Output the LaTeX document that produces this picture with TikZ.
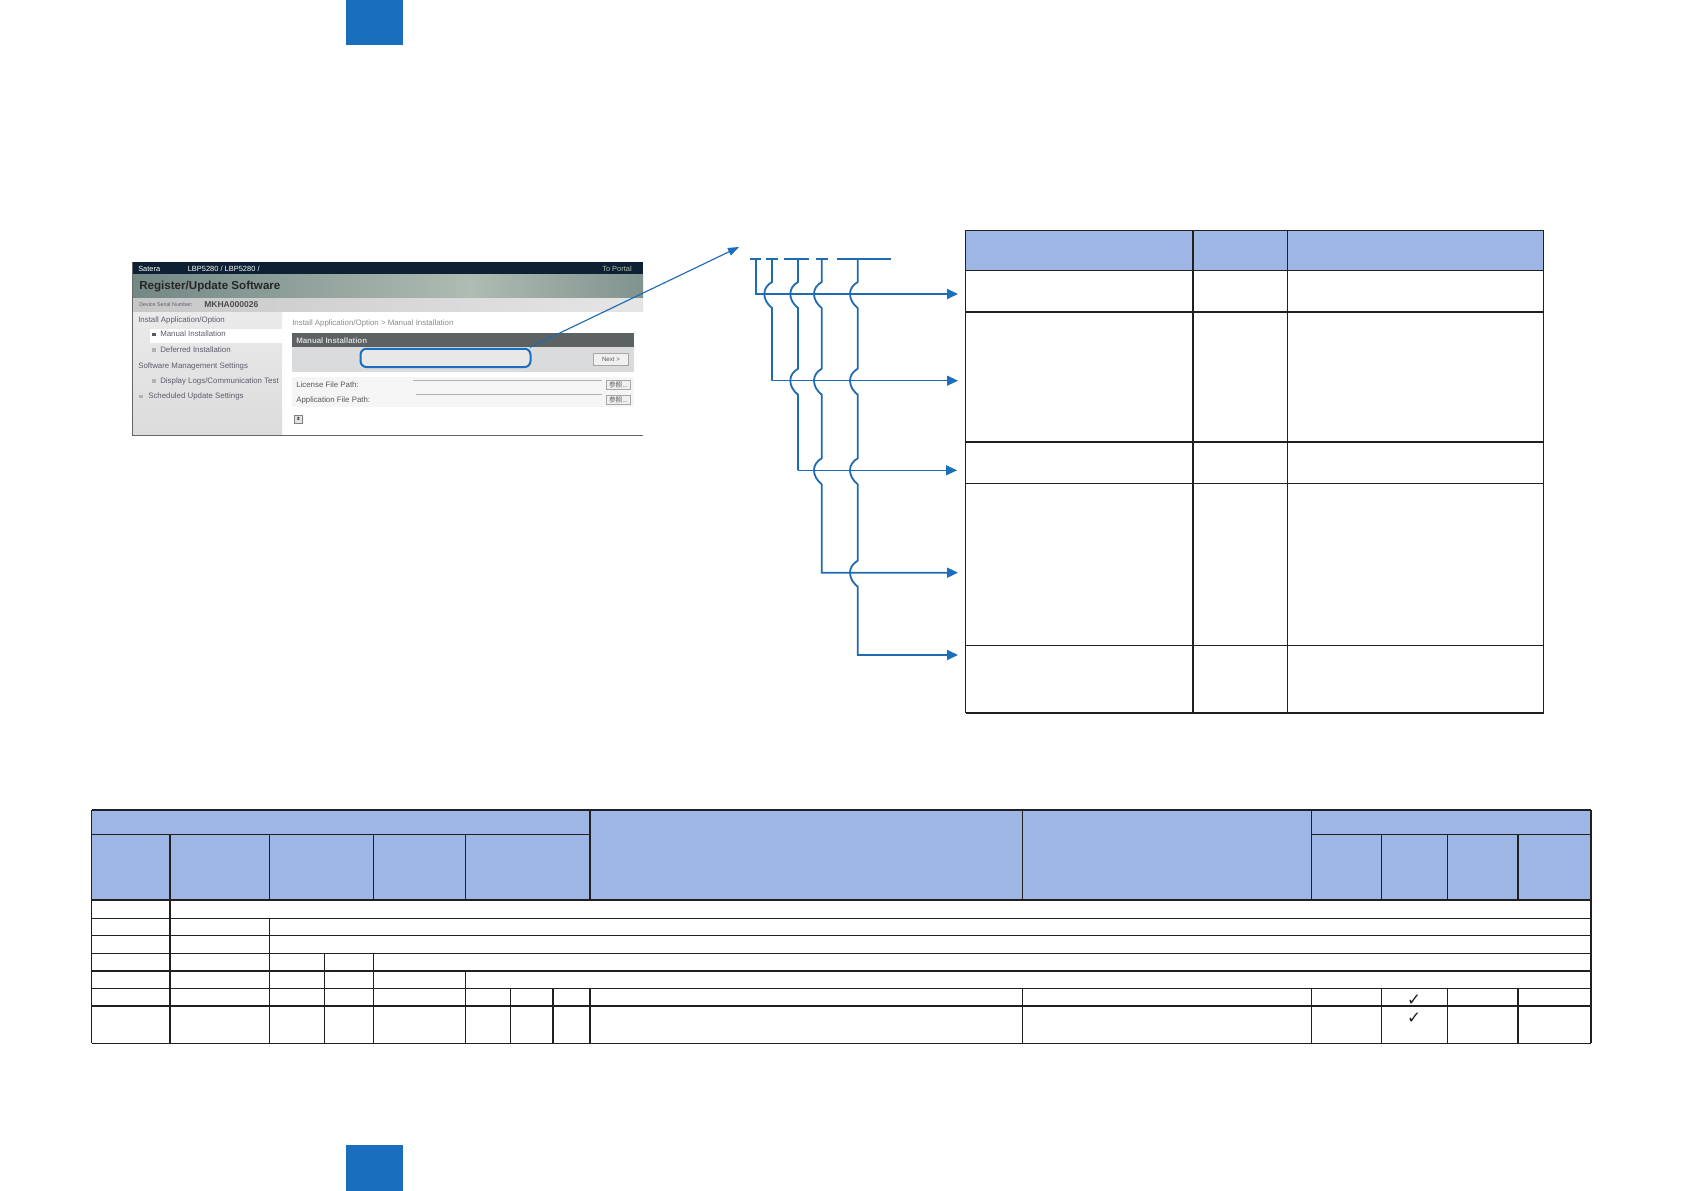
\documentclass[tikz,border=0pt]{standalone}
\usepackage{fontspec}
\setmainfont{Liberation Sans}
\newfontfamily\cjk{Noto Sans CJK SC}
\newfontfamily\dejavu{DejaVu Sans}
\usetikzlibrary{arrows.meta}
\definecolor{brandblue}{HTML}{1A6EBE}
\definecolor{wireblue}{HTML}{1F6AB0}
\definecolor{headblue}{HTML}{9DB6E4}
\definecolor{ruleink}{HTML}{231F20}
\definecolor{bardark}{HTML}{0E2033}
\definecolor{titleL}{HTML}{738785}
\definecolor{titleM}{HTML}{AEBCB2}
\definecolor{titleR}{HTML}{81938F}
\definecolor{panelhead}{HTML}{5C6161}
\definecolor{panelbody}{HTML}{D9DBDC}
\definecolor{menuink}{HTML}{5C5D6C}
\tikzset{
  thinrule/.style={draw=ruleink,line width=0.85pt},
  thickrule/.style={draw=ruleink,line width=1.6pt},
  wire/.style={draw=wireblue,line width=1.35pt},
  finewire/.style={draw=wireblue,line width=0.85pt},
  tipped/.style={-{Triangle[length=8.25pt,width=7.5pt,color=brandblue]}},
  uitext/.style={inner sep=0pt,anchor=west,font=\fontsize{5.9}{6.5}\selectfont,text=menuink},
  bartext/.style={inner sep=0pt,font=\fontsize{5.6}{6}\selectfont,text=white},
  uibtn/.style={draw=black!35,fill=black!6,line width=0.4pt,inner sep=0pt,font=\fontsize{4.6}{5}\selectfont,text=black!65}
}
% a vertical wire hopping to the left over a horizontal one at height #2
\def\hop#1#2{-- (#1,#2-12) .. controls (#1-5,#2-9) and (#1-7.7,#2-5) .. (#1-7.7,#2) .. controls (#1-7.7,#2+5) and (#1-5,#2+10) .. (#1,#2+14)}
\begin{document}
\begin{tikzpicture}[x=0.75pt,y=-0.75pt]
\useasboundingbox (0,0) rectangle (1684,1191);
\fill[white] (0,0) rectangle (1684,1191);

% page tabs
\fill[brandblue] (346,0) rectangle (403,45);
\fill[brandblue] (346,1145) rectangle (403,1191);

% ---------- screenshot ----------
\fill[white] (282,311) rectangle (643,435);
\shade[top color=black!8,bottom color=black!14] (132,311) rectangle (282,435);
\fill[white] (150,329) rectangle (282,343);
\fill[bardark] (132,262.3) rectangle (643,275);
\shade[left color=titleL,right color=titleM] (132,275) rectangle (470,298.3);
\shade[left color=titleM,right color=titleR] (470,275) rectangle (643,298.3);
\shade[left color=black!22,right color=black!10] (132,298.3) rectangle (643,311);
\draw[black!60,line width=0.7pt] (132,262.3) -- (132,435) -- (643,435);
\fill[panelhead] (292,333) rectangle (634,346.7);
\fill[panelbody] (292,346.7) rectangle (634,372.3);
\fill[black!4] (292,377) rectangle (634,407);
\draw[black!30,line width=0.4pt] (412.7,380) -- (602,380) (416,394) -- (602,394);

\node[bartext,anchor=west] (t1) at (138,269) {Satera};
\node[bartext,anchor=west] (t2) at (187.5,269) {LBP5280 / LBP5280 /};
\node[bartext,anchor=east,text=titleM] (t3) at (632,269) {To Portal};
\node[inner sep=0pt,anchor=west,font=\fontsize{8.7}{9.5}\selectfont\bfseries,text=black!85] (t4) at (139,287) {Register/Update Software};
\node[uitext,font=\fontsize{4}{5}\selectfont] (t5) at (139,305) {Device Serial Number:};
\node[uitext,font=\fontsize{6.4}{7}\selectfont\bfseries,text=black!70] (t6) at (204,305) {MKHA000026};
\node[uitext] (t7) at (138,320) {Install Application/Option};
\fill[black!65] (151.5,332.8) rectangle (155.5,336.2);
\node[uitext] (t8) at (160,334) {Manual Installation};
\fill[black!30] (151.5,348.3) rectangle (155.5,351.7);
\node[uitext] (t9) at (160,350) {Deferred Installation};
\node[uitext] (t10) at (138,366) {Software Management Settings};
\fill[black!30] (151.5,379.3) rectangle (155.5,382.7);
\node[uitext] (t11) at (160,381) {Display Logs/Communication Test};
\fill[black!30] (139,395) rectangle (143,398.4);
\node[uitext] (t12) at (148,396.5) {Scheduled Update Settings};
\node[uitext,text=black!45] (t13) at (292,323) {Install Application/Option > Manual Installation};
\node[uitext,font=\fontsize{5.9}{6.5}\selectfont\bfseries,text=black!15] (t14) at (296,340.5) {Manual Installation};
\node[uibtn,minimum width=26pt,minimum height=9pt] (nextbtn) at (611,359.3) {Next >};
\node[uitext,text=black!65] (t15) at (296,385) {License File Path:};
\node[uitext,text=black!65] (t16) at (296,400) {Application File Path:};
\node[uibtn,minimum width=18pt,minimum height=7pt,font=\fontsize{5}{5}\cjk] (b1) at (618.5,384.5) {参照...};
\node[uibtn,minimum width=18pt,minimum height=7pt,font=\fontsize{5}{5}\cjk] (b2) at (618.5,399.5) {参照...};
\node[draw=black!50,fill=black!10,line width=0.4pt,minimum size=6pt,inner sep=0pt,font=\fontsize{4}{4}\selectfont\bfseries] (topbtn) at (298.3,419) {±};

% highlighted field and its leader
\node[draw=brandblue,fill=black!9,line width=1.5pt,rounded corners=4.5pt,minimum width=127.5pt,minimum height=13.7pt,inner sep=0pt] (field) at (445.5,357.9) {};
\coordinate (leadtip) at (739,247);
\coordinate (leadfoot) at (530,347.3);
\draw[finewire,-{Triangle[length=8.25pt,width=6pt,color=brandblue]}] (leadfoot) -- (leadtip);

% ---------- connector bundle ----------
\coordinate (ta) at (755.7,259); \coordinate (tb) at (772,259); \coordinate (tc) at (798,259);
\coordinate (td) at (821.7,259); \coordinate (te) at (857.7,259);
\coordinate (ea) at (958,294); \coordinate (eb) at (958,380.7); \coordinate (ec) at (957,470.3);
\coordinate (ed) at (958,572.7); \coordinate (ee) at (958,655);
\coordinate (cb) at (772,380.7); \coordinate (cc) at (798,470.3);
\draw[wire] (750,259) -- (760.7,259) (766,259) -- (777.7,259) (784.3,259) -- (809.3,259)
            (816,259) -- (827.7,259) (836.7,259) -- (890.7,259);
\draw[wire,tipped] (ta) |- (ea);
\draw[wire] (tb) \hop{772}{294} -- (cb);
\draw[finewire,tipped] (cb) -- (eb);
\draw[wire] (tc) \hop{798}{294} \hop{798}{380.7} -- (cc);
\draw[finewire,tipped] (cc) -- (ec);
\draw[wire,tipped] (td) \hop{821.7}{294} \hop{821.7}{380.7} \hop{821.7}{470.3} |- (ed);
\draw[wire,tipped] (te) \hop{857.7}{294} \hop{857.7}{380.7} \hop{857.7}{470.3} \hop{857.7}{572.7} |- (ee);

% ---------- right table ----------
\fill[headblue] (965.7,230.3) rectangle (1543.6,270.3);
\draw[thinrule] (965.7,230.3) rectangle (1543.6,712.7);
\draw[thinrule] (965.7,270.3) -- (1543.6,270.3) (965.7,483.3) -- (1543.6,483.3) (965.7,645.3) -- (1543.6,645.3);
\draw[thickrule] (965.7,311.7) -- (1543.6,311.7) (965.7,441.7) -- (1543.6,441.7) (965.7,712.7) -- (1543.6,712.7);
\draw[thickrule] (1192.7,230.3) -- (1192.7,712.7);
\draw[thinrule] (1287.6,230.3) -- (1287.6,712.7);

% ---------- bottom table ----------
\fill[headblue] (91.5,810) rectangle (1590.7,900);
\draw[thinrule] (91.5,834.3) -- (590.1,834.3) (1311.6,834.3) -- (1590.7,834.3);
\foreach \yy in {900,918.3,935.3,953.3,988.3,1043.3}
  \draw[thinrule] (91.5,\yy) -- (1590.7,\yy);
\foreach \yy in {810,971,1005.7}
  \draw[thickrule] (91.5,\yy) -- (1590.7,\yy);
\draw[thinrule] (91.5,810) -- (91.5,1043.3);
\draw[thickrule] (1590.7,810) -- (1590.7,1043.3);
\draw[thickrule] (169.9,834.3) -- (169.9,1043.3);
\draw[thinrule] (269.4,834.3) -- (269.4,900) (269.4,918.3) -- (269.4,1043.3);
\draw[thinrule] (324.5,953.3) -- (324.5,1043.3);
\draw[thinrule] (373.5,834.3) -- (373.5,900) (373.5,953.3) -- (373.5,1043.3);
\draw[thinrule] (465.8,834.3) -- (465.8,900) (465.8,971) -- (465.8,1043.3);
\draw[thinrule] (510.5,988.3) -- (510.5,1043.3);
\draw[thickrule] (553.4,988.3) -- (553.4,1043.3);
\draw[thickrule] (590.1,810) -- (590.1,900) (590.1,988.3) -- (590.1,1043.3);
\foreach \xx in {1022.5,1311.6} \draw[thinrule] (\xx,810) -- (\xx,900) (\xx,988.3) -- (\xx,1043.3);
\foreach \xx in {1381.6,1447.2} \draw[thinrule] (\xx,834.3) -- (\xx,900) (\xx,988.3) -- (\xx,1043.3);
\draw[thickrule,line width=1.2pt] (1518,834.3) -- (1518,900) (1518,988.3) -- (1518,1043.3);

\node[inner sep=0pt,font=\fontsize{12.5}{13}\dejavu\bfseries,text=ruleink] (chk1) at (1414,1000.5) {✓};
\node[inner sep=0pt,font=\fontsize{12.5}{13}\dejavu\bfseries,text=ruleink] (chk2) at (1414,1018) {✓};
\end{tikzpicture}
\end{document}
